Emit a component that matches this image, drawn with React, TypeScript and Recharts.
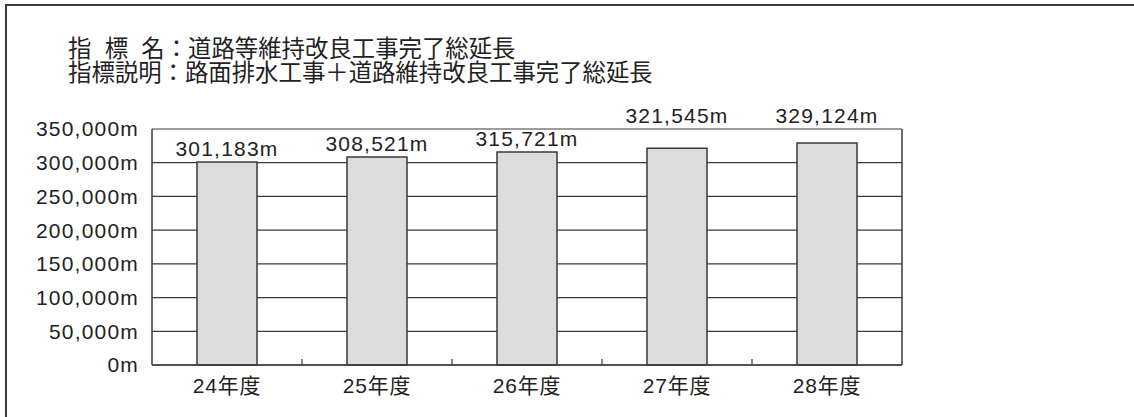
import React from "react";
import {
  BarChart,
  Bar,
  XAxis,
  YAxis,
  CartesianGrid,
  LabelList,
} from "recharts";

const categories = ["24年度", "25年度", "26年度", "27年度", "28年度"];
const values = [301183, 308521, 315721, 321545, 329124];
const yTicks = [0, 50000, 100000, 150000, 200000, 250000, 300000, 350000];
const titleLine1 = "指 標 名：道路等維持改良工事完了総延長";
const titleLine2 = "指標説明：路面排水工事＋道路維持改良工事完了総延長";

const data = categories.map((c, i) => ({ name: c, value: values[i] }));

const W = 1134;
const H = 417;
const XAXIS_H = 52;
const YAXIS_W = 140;
const RAXIS_W = 1;
const MARGIN = { top: 129, right: 232 - RAXIS_W, bottom: 0, left: 12 };
const PLOT_LEFT = MARGIN.left + YAXIS_W;
const PLOT_W = W - PLOT_LEFT - 232;
const BAND = PLOT_W / categories.length;
const LINE = "#3a3a3a";
const TEXT = "#222";
const FONT = "'Liberation Sans', Arial, 'Noto Sans CJK JP', sans-serif";
const CJK = "'Noto Sans CJK JP', sans-serif";

const fmt = (v: number) => v.toLocaleString("en-US") + "m";

const XTick = (props: any) => {
  const { x, y, payload, index } = props;
  return (
    <g>
      {index < categories.length - 1 && (
        <line x1={x + BAND / 2} x2={x + BAND / 2} y1={y} y2={y - 6} stroke={LINE} strokeWidth={1.2} />
      )}
      <text
        x={x}
        y={y + 28}
        textAnchor="middle"
        fill={TEXT}
        fontSize={21}
        letterSpacing={0.8}
        fontFamily={FONT}
      >
        {payload.value}
      </text>
    </g>
  );
};

const ValueLabel = (props: any) => {
  const { x, y, width, value } = props;
  let base = y - 6;
  if (base - 15 < MARGIN.top) base = MARGIN.top - 6;
  return (
    <text
      x={x + width / 2}
      y={base}
      textAnchor="middle"
      fill={TEXT}
      fontSize={21}
      letterSpacing={1.2}
      fontFamily={FONT}
    >
      {fmt(value)}
    </text>
  );
};

export default function App() {
  return (
    <div
      style={{
        position: "absolute",
        left: 0,
        top: 0,
        width: W,
        height: H,
        background: "#fff",
        overflow: "hidden",
      }}
    >
      <div
        style={{
          position: "absolute",
          left: 5,
          top: 4,
          width: W,
          height: H,
          borderLeft: `2px solid ${LINE}`,
          borderTop: `2px solid ${LINE}`,
        }}
      />
      <div
        style={{
          position: "absolute",
          left: 68,
          top: 35,
          fontFamily: CJK,
          fontSize: 23.4,
          lineHeight: "24px",
          color: TEXT,
          whiteSpace: "pre",
        }}
      >
        <div style={{ wordSpacing: 8 }}>{titleLine1}</div>
        <div>{titleLine2}</div>
      </div>
      <div style={{ position: "absolute", left: 0, top: 0 }}>
        <BarChart
          width={W}
          height={H}
          data={data}
          margin={MARGIN}
          barCategoryGap="30%"
        >
          <CartesianGrid
            yAxisId="left"
            vertical={false}
            stroke={LINE}
            strokeWidth={1.2}
          />
          <XAxis
            dataKey="name"
            tick={<XTick />}
            tickLine={false}
            tickSize={0}
            tickMargin={0}
            axisLine={{ stroke: LINE, strokeWidth: 1.5 }}
            interval={0}
            height={XAXIS_H}
          />
          <YAxis
            yAxisId="left"
            domain={[0, 350000]}
            ticks={yTicks}
            interval={0}
            tickFormatter={fmt}
            width={YAXIS_W}
            tickSize={0}
            tickMargin={13}
            tickLine={false}
            axisLine={{ stroke: LINE, strokeWidth: 1.5 }}
            tick={{ fill: TEXT, fontSize: 21, fontFamily: FONT, letterSpacing: 1.2 }}
          />
          <YAxis
            yAxisId="right"
            orientation="right"
            domain={[0, 350000]}
            width={RAXIS_W}
            tick={false}
            tickLine={false}
            axisLine={{ stroke: LINE, strokeWidth: 1.5 }}
          />
          <Bar
            yAxisId="left"
            dataKey="value"
            fill="#dcdcdc"
            stroke={LINE}
            strokeWidth={1.5}
            isAnimationActive={false}
          >
            <LabelList dataKey="value" content={<ValueLabel />} />
          </Bar>
        </BarChart>
      </div>
    </div>
  );
}
